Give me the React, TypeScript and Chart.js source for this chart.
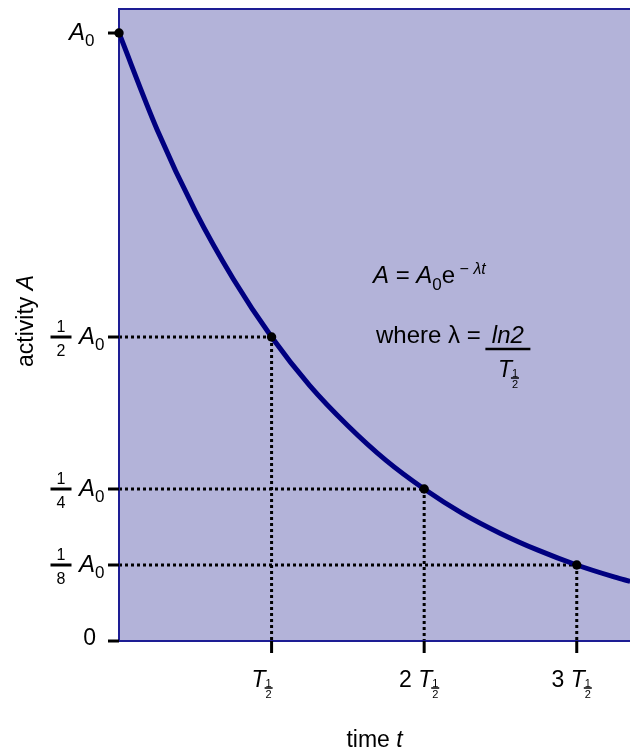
import React, { useEffect, useRef } from "react";
import { Chart, registerables } from "chart.js";

Chart.register(...registerables);

// ---- data (time in units of the half-life T½, activity in units of A0) ----
const halfLifeMultiples = [0, 1, 2, 3];
const markedActivity = [1, 0.5, 0.25, 0.125];
const curveTime = [0, 0.25, 0.5, 0.75, 1, 1.25, 1.5, 1.75, 2, 2.25, 2.5, 2.75, 3, 3.25, 3.35];
const curveActivity = [1, 0.841, 0.707, 0.595, 0.5, 0.42, 0.354, 0.297, 0.25, 0.21, 0.177, 0.149, 0.125, 0.105, 0.098];
const yTickValues = [1, 0.5, 0.25, 0.125, 0];
const yTickDenominators = ["", "2", "4", "8", ""];
const xTickValues = [1, 2, 3];
const xTickPrefixes = ["", "2", "3"];

const FF = "'Liberation Sans', Arial, Helvetica, sans-serif";
const BG = "rgb(179,179,217)";
const BORDER = "#1d1d94";
const CURVE = "#000080";

type Run = { t: string; font: string; dy?: number };

function runsWidth(ctx: CanvasRenderingContext2D, runs: Run[]) {
  let w = 0;
  for (const r of runs) {
    ctx.font = r.font;
    w += ctx.measureText(r.t).width;
  }
  return w;
}

function drawRuns(ctx: CanvasRenderingContext2D, x: number, y: number, runs: Run[]) {
  let cx = x;
  ctx.textAlign = "left";
  ctx.textBaseline = "alphabetic";
  for (const r of runs) {
    ctx.font = r.font;
    ctx.fillText(r.t, cx, y + (r.dy || 0));
    cx += ctx.measureText(r.t).width;
  }
  return cx;
}

function drawFraction(
  ctx: CanvasRenderingContext2D,
  cx: number,
  barY: number,
  num: string,
  den: string,
  font: string,
  halfBar: number,
  barW: number,
  numGap: number,
  denGap: number
) {
  ctx.save();
  ctx.strokeStyle = "#000";
  ctx.lineWidth = barW;
  ctx.beginPath();
  ctx.moveTo(cx - halfBar, barY);
  ctx.lineTo(cx + halfBar, barY);
  ctx.stroke();
  ctx.textAlign = "center";
  ctx.textBaseline = "alphabetic";
  ctx.font = font;
  ctx.fillText(num, cx, barY - numGap);
  ctx.fillText(den, cx, barY + denGap);
  ctx.restore();
}

const decorPlugin = {
  id: "decor",
  beforeDatasetsDraw(chart: any) {
    const { ctx, chartArea: a, scales } = chart;
    const xs = scales.x;
    const ys = scales.y;
    ctx.save();
    ctx.fillStyle = BG;
    ctx.fillRect(a.left, a.top, a.right - a.left, a.bottom - a.top);

    // dotted guides
    ctx.strokeStyle = "#000";
    ctx.lineWidth = 3;
    ctx.setLineDash([3, 3]);
    for (let i = 1; i < halfLifeMultiples.length; i++) {
      const px = xs.getPixelForValue(halfLifeMultiples[i]);
      const py = ys.getPixelForValue(markedActivity[i]);
      ctx.beginPath();
      ctx.moveTo(a.left, py);
      ctx.lineTo(px, py);
      ctx.stroke();
      ctx.beginPath();
      ctx.moveTo(px, py);
      ctx.lineTo(px, a.bottom);
      ctx.stroke();
    }
    ctx.setLineDash([]);

    // frame (left, top, bottom)
    ctx.strokeStyle = BORDER;
    ctx.lineWidth = 2;
    ctx.beginPath();
    ctx.moveTo(a.right + 2, a.top);
    ctx.lineTo(a.left, a.top);
    ctx.lineTo(a.left, a.bottom);
    ctx.lineTo(a.right + 2, a.bottom);
    ctx.stroke();
    ctx.restore();
  },
  afterDraw(chart: any) {
    const { ctx, chartArea: a, scales } = chart;
    const xs = scales.x;
    const ys = scales.y;
    ctx.save();
    ctx.fillStyle = "#000";
    ctx.strokeStyle = "#000";

    // ---- y ticks & labels ----
    for (let i = 0; i < yTickValues.length; i++) {
      const py = ys.getPixelForValue(yTickValues[i]);
      ctx.lineWidth = 3;
      ctx.beginPath();
      ctx.moveTo(a.left - 11, py);
      ctx.lineTo(a.left, py);
      ctx.stroke();
      if (yTickValues[i] === 0) {
        ctx.font = `23px ${FF}`;
        ctx.textAlign = "right";
        ctx.textBaseline = "alphabetic";
        ctx.fillText("0", a.left - 23, py + 4);
        continue;
      }
      const den = yTickDenominators[i];
      const runs: Run[] = [
        { t: "A", font: `italic 24px ${FF}` },
        { t: "0", font: `17px ${FF}`, dy: 6.5 },
      ];
      if (den) {
        drawFraction(ctx, a.left - 58, py, "1", den, `16px ${FF}`, 10.5, 3, 5, 18.5);
        drawRuns(ctx, a.left - 40, py + 6.5, runs);
      } else {
        drawRuns(ctx, a.left - 50, py + 6.5, runs);
      }
    }

    // ---- x ticks & labels ----
    for (let i = 0; i < xTickValues.length; i++) {
      const px = xs.getPixelForValue(xTickValues[i]);
      ctx.lineWidth = 3;
      ctx.beginPath();
      ctx.moveTo(px, a.bottom);
      ctx.lineTo(px, a.bottom + 12);
      ctx.stroke();
      const prefix = xTickPrefixes[i];
      const base = a.bottom + 46;
      let left = px - 20;
      if (prefix) {
        ctx.font = `23px ${FF}`;
        const pw = ctx.measureText(prefix + " ").width;
        left = px - 6 - pw;
      }
      const end = drawRuns(ctx, left, base, [
        { t: prefix ? prefix + " " : "", font: `23px ${FF}` },
        { t: "T", font: `italic 23px ${FF}` },
      ]);
      drawFraction(ctx, end + 3, base + 1, "1", "2", `11px ${FF}`, 4, 1.5, 1.5, 10);
    }

    // ---- axis titles ----
    const yTitle: Run[] = [
      { t: "activity ", font: `23px ${FF}` },
      { t: "A", font: `italic 23px ${FF}` },
    ];
    const ytw = runsWidth(ctx, yTitle);
    ctx.save();
    ctx.translate(33, (a.top + a.bottom) / 2 - 4);
    ctx.rotate(-Math.PI / 2);
    drawRuns(ctx, -ytw / 2, 0, yTitle);
    ctx.restore();

    const xTitle: Run[] = [
      { t: "time ", font: `23px ${FF}` },
      { t: "t", font: `italic 23px ${FF}` },
    ];
    const xtw = runsWidth(ctx, xTitle);
    drawRuns(ctx, (a.left + a.right) / 2 - xtw / 2, a.bottom + 106, xTitle);

    // ---- equation ----
    drawRuns(ctx, 373, 283, [
      { t: "A", font: `italic 24px ${FF}` },
      { t: " = ", font: `24px ${FF}` },
      { t: "A", font: `italic 24px ${FF}` },
      { t: "0", font: `17px ${FF}`, dy: 6.5 },
      { t: "e", font: `24px ${FF}` },
      { t: " \u2212 ", font: `16px ${FF}`, dy: -9 },
      { t: "\u03BBt", font: `italic 16px ${FF}`, dy: -9 },
    ]);
    const afterEq = drawRuns(ctx, 376, 343, [{ t: "where \u03BB = ", font: `24px ${FF}` }]);
    const fracL = afterEq - 2;
    const fracR = fracL + 45;
    const fcx = (fracL + fracR) / 2;
    ctx.lineWidth = 2.5;
    ctx.beginPath();
    ctx.moveTo(fracL, 349);
    ctx.lineTo(fracR, 349);
    ctx.stroke();
    ctx.font = `italic 24px ${FF}`;
    const lnw = ctx.measureText("ln2").width;
    drawRuns(ctx, fcx - lnw / 2, 343, [{ t: "ln2", font: `italic 24px ${FF}` }]);
    const tEnd = drawRuns(ctx, fcx - 10, 377, [{ t: "T", font: `italic 23px ${FF}` }]);
    drawFraction(ctx, tEnd + 3, 378, "1", "2", `11px ${FF}`, 4, 1.5, 1.5, 10);

    ctx.restore();
  },
};

export default function App() {
  const ref = useRef<HTMLCanvasElement | null>(null);
  useEffect(() => {
    if (!ref.current) return;
    const curve = curveTime.map((t, i) => ({ x: t, y: curveActivity[i] }));
    const marks = halfLifeMultiples.map((t, i) => ({ x: t, y: markedActivity[i] }));
    const chart = new Chart(ref.current, {
      type: "line",
      data: {
        datasets: [
          {
            data: marks,
            showLine: false,
            pointRadius: 4.7,
            pointBackgroundColor: "#000",
            pointBorderWidth: 0,
            clip: false as any,
          },
          {
            data: curve,
            borderColor: CURVE,
            borderWidth: 5,
            pointRadius: 0,
            cubicInterpolationMode: "monotone",
            fill: false,
          },
        ],
      },
      options: {
        responsive: false,
        animation: false,
        events: [],
        layout: { autoPadding: false, padding: { left: 119, top: 9, right: 0, bottom: 111 } },
        plugins: { legend: { display: false }, tooltip: { enabled: false } },
        scales: {
          x: { type: "linear", display: false, min: 0, max: 3.349 },
          y: { type: "linear", display: false, min: 0, max: 1.0395 },
        },
      },
      plugins: [decorPlugin],
    });
    return () => chart.destroy();
  }, []);
  return (
    <div style={{ position: "absolute", left: 0, top: 0, width: 630, height: 752, background: "#fff" }}>
      <canvas ref={ref} width={630} height={752} style={{ display: "block" }} />
    </div>
  );
}
